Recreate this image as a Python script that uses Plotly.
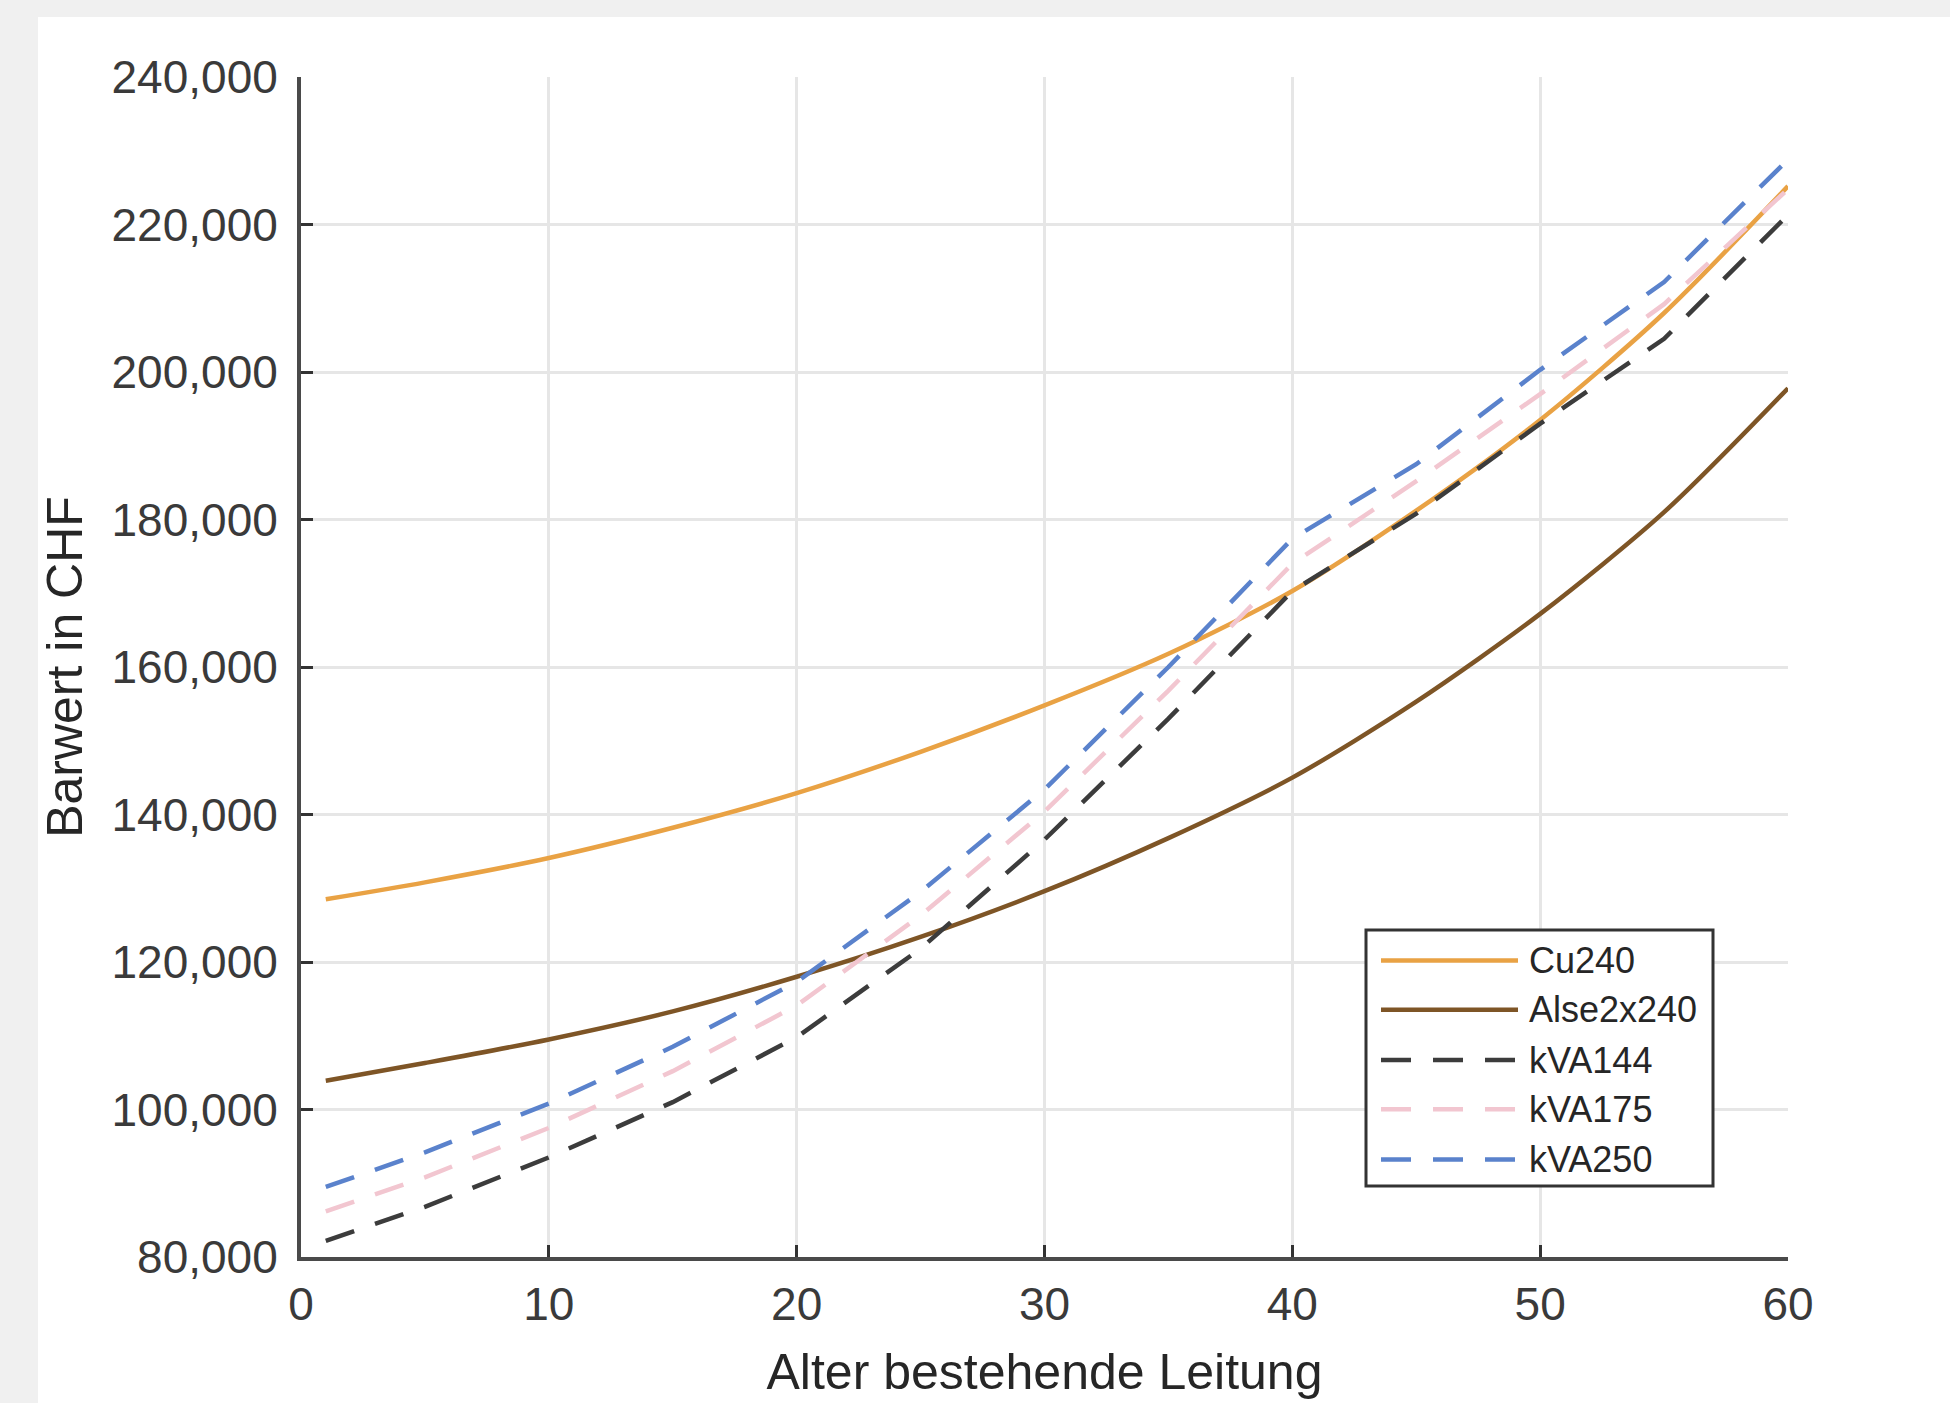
import plotly.graph_objects as go

# ---- data ----
alter = [1, 5, 10, 15, 20, 25, 30, 35, 40, 45, 50, 55, 60]
cu240 = [128500, 130800, 134100, 138200, 142900, 148500, 154800, 161800, 170300, 181200, 193500, 208000, 225200]
alse2x240 = [103900, 106300, 109500, 113300, 118000, 123400, 129600, 136800, 145000, 155300, 167200, 181000, 197800]
kva144 = [82200, 86800, 93500, 101000, 109800, 121800, 136600, 153000, 170300, 180800, 193000, 204500, 221300]
kva175 = [86200, 90800, 97500, 105200, 114100, 126300, 140400, 156800, 174000, 185200, 197000, 209200, 224800]
kva250 = [89500, 94200, 100800, 108500, 117300, 129500, 143400, 160000, 177400, 187500, 200300, 212200, 228800]

series_names = ["Cu240", "Alse2x240", "kVA144", "kVA175", "kVA250"]
series_values = [cu240, alse2x240, kva144, kva175, kva250]
series_colors = ["#E9A244", "#7E5526", "#3C3C3C", "#F2C6D0", "#5A82CC"]
series_dash = ["solid", "solid", "30px,22px", "30px,22px", "30px,22px"]

x_ticks = [0, 10, 20, 30, 40, 50, 60]
y_ticks = [80000, 100000, 120000, 140000, 160000, 180000, 200000, 220000, 240000]

W, H = 1950, 1403
L, R, T, B = 301, 1788, 77, 1275
pw, ph = R - L, B - T


def px_x(p):
    return (p - L) / pw


def px_y(p):
    return (B - p) / ph


fig = go.Figure()
for name, vals, col, dash in zip(series_names, series_values, series_colors, series_dash):
    solid = dash == "solid"
    fig.add_trace(go.Scatter(
        x=alter, y=vals, name=name, mode="lines",
        line=dict(color=col, width=4.5, dash=dash,
                  shape="spline" if solid else "linear",
                  smoothing=0.8 if solid else None),
        showlegend=False,
    ))

shapes = []
# white figure panel on grey window background
shapes.append(dict(type="rect", xref="paper", yref="paper",
                   x0=px_x(38), x1=px_x(2000), y0=px_y(1450), y1=px_y(16),
                   fillcolor="white", line=dict(width=0), layer="below"))

# legend box
lx0, lx1, ly0, ly1 = 1366, 1713, 943, 1203
shapes.append(dict(type="rect", xref="paper", yref="paper",
                   x0=px_x(lx0), x1=px_x(lx1), y0=px_y(ly1), y1=px_y(ly0),
                   fillcolor="white", line=dict(color="#333333", width=3), layer="above"))

annotations = []
row_y = [974, 1024, 1075, 1125, 1176]
for i, (name, col, dash) in enumerate(zip(series_names, series_colors, series_dash)):
    yy = px_y(row_y[i])
    shapes.append(dict(type="line", xref="paper", yref="paper",
                       x0=px_x(1381), x1=px_x(1518), y0=yy, y1=yy,
                       line=dict(color=col, width=4.5, dash=dash), layer="above"))
    annotations.append(dict(xref="paper", yref="paper", x=px_x(1527), y=yy,
                            text=name, showarrow=False, xanchor="left", yanchor="middle",
                            font=dict(family="Liberation Sans, Arial, sans-serif", size=36, color="#262626")))

fig.update_layout(
    width=W, height=H,
    margin=dict(l=L, r=W - R, t=T, b=H - B, pad=0),
    paper_bgcolor="#f0f0f0",
    plot_bgcolor="white",
    font=dict(family="Liberation Sans, Arial, sans-serif", color="#3a3a3a"),
    shapes=shapes,
    annotations=annotations,
    showlegend=False,
)

fig.update_xaxes(
    range=[0, 60], tickvals=x_ticks, ticktext=[str(v) for v in x_ticks],
    showgrid=True, gridcolor="#e6e6e6", gridwidth=3,
    showline=True, linecolor="#4a4a4a", linewidth=4, zeroline=False,
    ticks="inside", ticklen=12, tickwidth=3, tickcolor="#333333",
    tickfont=dict(size=46, color="#3a3a3a"), ticklabelstandoff=4,
    title=dict(text="Alter bestehende Leitung", font=dict(size=50, color="#262626"), standoff=26),
)
fig.update_yaxes(
    range=[80000, 240000], tickvals=y_ticks, tickformat=",d",
    showgrid=True, gridcolor="#e6e6e6", gridwidth=3,
    showline=True, linecolor="#4a4a4a", linewidth=4, zeroline=False,
    ticks="inside", ticklen=12, tickwidth=3, tickcolor="#333333",
    tickfont=dict(size=46, color="#3a3a3a"), ticklabelstandoff=10,
    title=dict(text="Barwert in CHF", font=dict(size=50, color="#262626"), standoff=14),
)

fig.write_html(
    "out.html",
    config={"displayModeBar": False},
    post_script="document.body.style.margin='0';document.body.style.overflow='hidden';",
)
